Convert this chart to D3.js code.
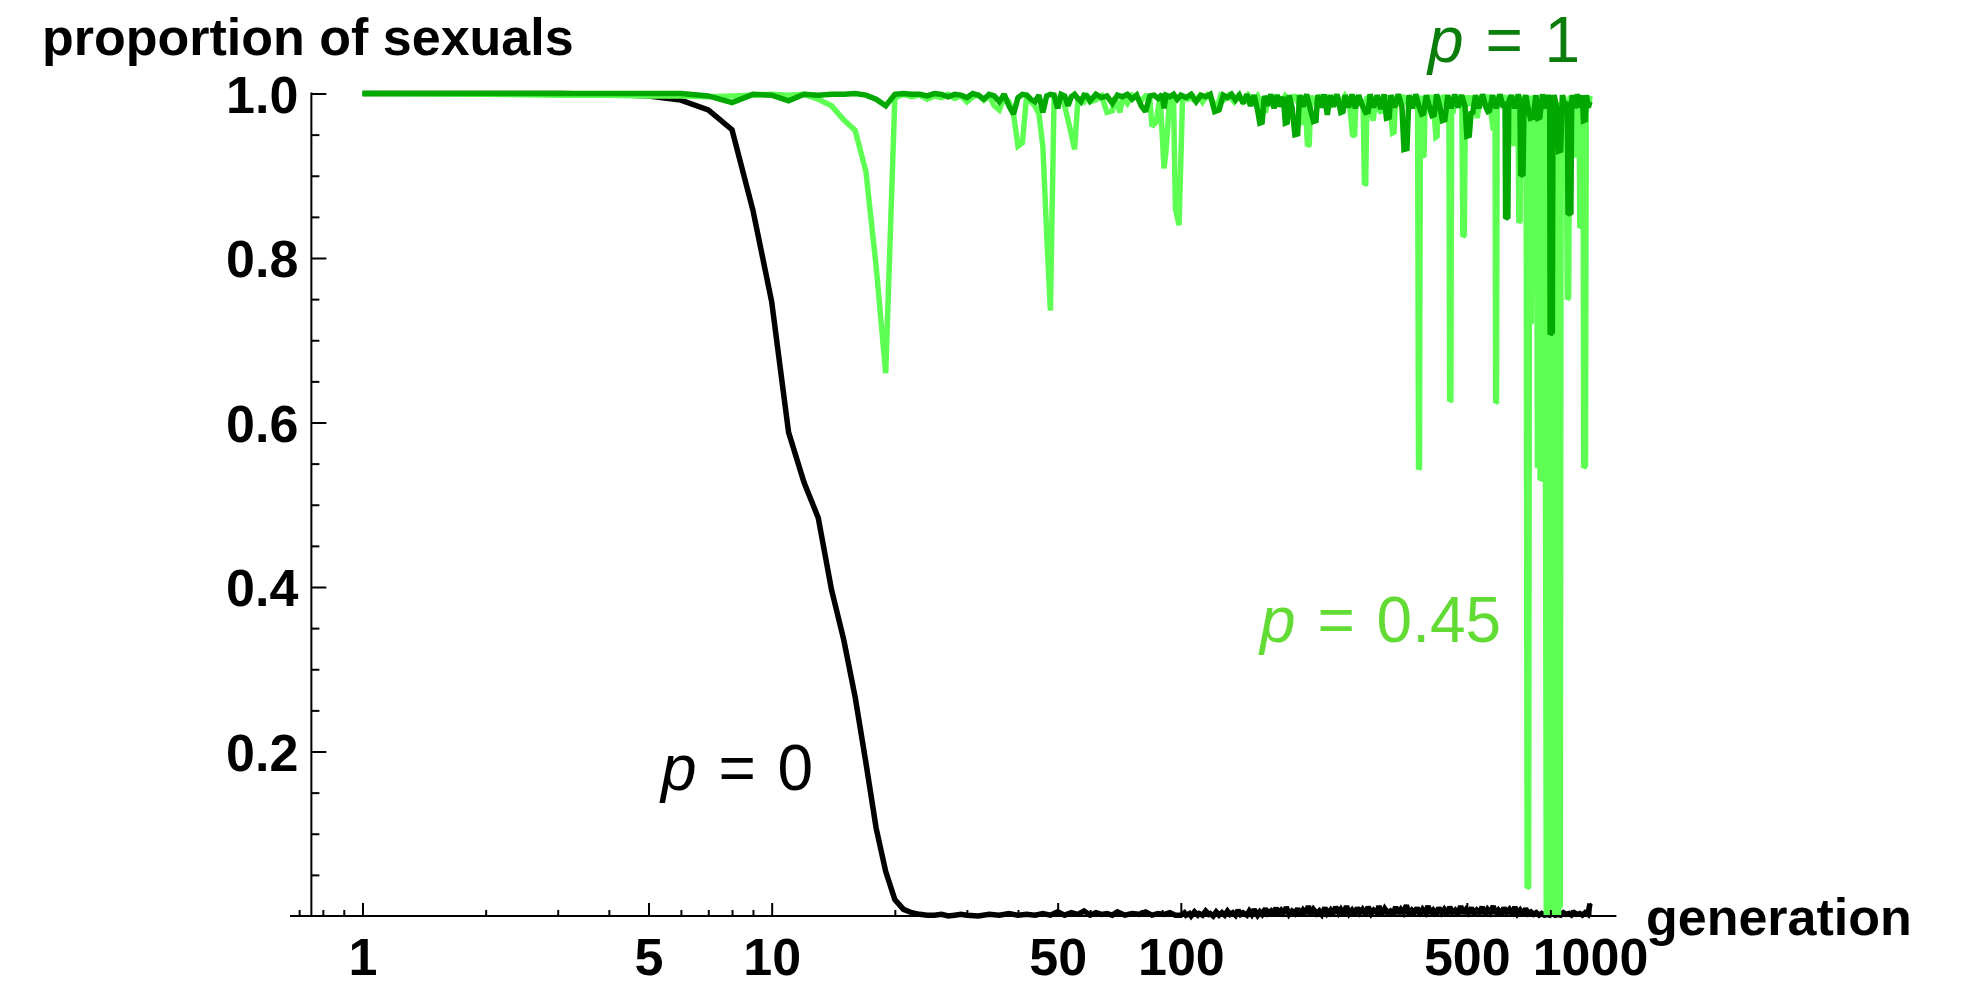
<!DOCTYPE html>
<html>
<head>
<meta charset="utf-8">
<script src="https://cdn.jsdelivr.net/npm/d3@7"></script>
<style>
  body { margin: 0; background: #ffffff; }
  svg { display: block; }
</style>
</head>
<body>
<svg id="chart" width="1967" height="987"></svg>
<script>
// ---- axis ticks ----
const generationMajorTicks = [1, 5, 10, 50, 100, 500, 1000];
const generationMinorTicks = [0.7, 0.8, 0.9, 2, 3, 4, 6, 7, 8, 9, 20, 30, 40, 60, 70, 80, 90,
                              200, 300, 400, 600, 700, 800, 900];
const proportionMajorTicks = [0.2, 0.4, 0.6, 0.8, 1.0];
const proportionMinorTicks = [0.05, 0.1, 0.15, 0.25, 0.3, 0.35, 0.45, 0.5, 0.55, 0.65, 0.7, 0.75,
                              0.85, 0.9, 0.95];
const generationAxisExtent = [0.665, 1160];
const yAxisGeneration = 0.75;

// ---- series labels ----
const seriesLabels = [
  { p: "p", rest: " = 0" },
  { p: "p", rest: " = 0.45" },
  { p: "p", rest: " = 1" }
];

// ---- proportion of sexuals, p = 0 : [generation, proportion] ----
const sexualsP0 = [
  [1,1],[2,1],[3,1],[4,0.999],[5,0.997],[6,0.992],[7,0.98],[8,0.956],[9,0.858],[10,0.747],
  [11,0.588],[12,0.527],[13,0.484],[14,0.397],[15,0.336],[16,0.266],[17,0.186],[18,0.107],
  [19,0.054],[20,0.02],[21,0.008],[22,0.004],[23,0.002],[24,0.001],[25,0.001],[26,0.002],
  [27,0],[28,0.001],[29,0.002],[30,0.001],[32,0],[34,0.002],[36,0.001],[38,0.003],[40,0.001],
  [42,0.002],[44,0.001],[46,0.003],[48,0.001],[50,0.005],[52,0.001],[54,0.004],[56,0.002],
  [58,0.006],[60,0.001],[62,0.004],[64,0.002],[66,0.003],[68,0.001],[70,0.005],[73,0.001],
  [76,0.003],[79,0.002],[82,0.005],[85,0.001],[88,0.003],[91,0.002],[94,0.004],[97,0.001],
  [100,0.001],[102,0.004],[103,0.001],[105,0.003],[106,0],[108,0.005],[110,0.001],[111,0.003],
  [113,0.001],[115,0.006],[117,0.002],[118,0.003],[120,0],[122,0.005],[124,0.001],[126,0.004],
  [128,0.001],[130,0.006],[132,0.002],[134,0.004],[136,0.001],[138,0.007],[140,0.002],
  [142,0.004],[145,0.001],[147,0.006],[149,0.002],[151,0.008],[154,0.001],[156,0.005],
  [158,0.002],[161,0.009],[163,0.003],[166,0.006],[168,0.001],[171,0.01],[173,0.002],
  [176,0.007],[179,0.003],[181,0.011],[184,0.002],[187,0.006],[190,0.003],[193,0.009],
  [196,0.001],[199,0.007],[202,0.003],[205,0.012],[208,0.002],[211,0.008],[215,0.003],
  [218,0.006],[221,0.002],[225,0.01],[228,0.003],[232,0.007],[235,0.002],[239,0.011],
  [243,0.004],[246,0.008],[250,0.002],[254,0.012],[258,0.003],[262,0.007],[266,0.002],
  [270,0.01],[274,0.004],[278,0.008],[283,0.002],[287,0.011],[292,0.003],[296,0.007],
  [301,0.004],[305,0.012],[310,0.002],[315,0.009],[320,0.004],[325,0.006],[330,0.002],
  [335,0.011],[340,0.003],[345,0.008],[350,0.004],[356,0.013],[361,0.002],[367,0.007],
  [372,0.004],[378,0.01],[384,0.002],[390,0.008],[396,0.004],[402,0.012],[408,0.003],
  [414,0.007],[421,0.002],[427,0.01],[434,0.004],[440,0.008],[447,0.002],[454,0.011],
  [461,0.004],[468,0.007],[475,0.002],[483,0.012],[490,0.003],[498,0.008],[505,0.004],
  [513,0.01],[521,0.002],[529,0.007],[537,0.004],[545,0.011],[554,0.002],[562,0.008],
  [571,0.004],[580,0.012],[588,0.003],[597,0.007],[607,0.002],[616,0.01],[625,0.004],
  [635,0.008],[645,0.002],[655,0.011],[665,0.003],[675,0.007],[685,0.002],[696,0.009],
  [706,0.003],[717,0.005],[728,0.002],[739,0.004],[751,0.001],[762,0.003],[774,0.001],
  [786,0.002],[798,0.001],[810,0.003],[823,0.001],[835,0.002],[848,0.001],[861,0.004],
  [874,0.002],[888,0.003],[901,0.001],[915,0.004],[929,0.002],[944,0.003],[958,0.001],
  [973,0.004],[988,0.002],[1000,0.015]
];

// ---- proportion of sexuals, p = 0.45 ----
const sexualsP045 = [
  [1,1],[2,0.999],[3,0.998],[4,0.998],[5,0.997],[6,0.997],[7,0.996],[8,0.997],[9,0.998],
  [10,0.999],[11,0.998],[12,0.999],[13,0.993],[14,0.985],[15,0.968],[16,0.955],[17,0.905],
  [18,0.79],[19,0.66],[20,0.995],[21,0.999],[22,0.996],[23,0.998],[24,0.993],[25,0.997],
  [26,0.995],[27,0.999],[28,0.994],[29,0.997],[30,0.99],[31,0.996],[32,0.998],[33,0.992],
  [34,0.997],[35,0.985],[36,0.98],[37,0.995],[38,0.99],[39,0.975],[40,0.936],[41,0.94],
  [42,0.998],[43,0.99],[44,0.985],[45,0.975],[46,0.936],[47,0.83],[48,0.736],[49,0.995],
  [50,0.99],[51,0.998],[52,0.985],[53,0.968],[54,0.95],[55,0.932],[56,0.99],[57,0.993],
  [58,0.99],[59,0.996],[60,0.99],[62,0.992],[64,0.997],[66,0.977],[68,0.979],[69,0.995],
  [71,0.977],[72,0.995],[74,0.988],[76,0.998],[78,0.995],[80,0.991],[82,0.997],[84,0.993],
  [85,0.96],[87,0.965],[89,0.996],[91,0.909],[92,0.93],[94,0.997],[96,0.99],[97,0.86],
  [99,0.84],[101,0.997],[104,0.993],[107,0.996],[108,0.99],[111,0.997],[113,0.99],
  [116,0.998],[119,0.993],[122,0.98],[125,0.997],[128,0.993],[131,0.998],[135,0.99],
  [138,0.997],[142,0.99],[146,0.998],[150,0.99],[154,0.997],[158,0.985],[161,0.977],
  [164,0.997],[168,0.99],[172,0.998],[176,0.988],[180,0.997],[185,0.99],[190,0.998],
  [195,0.985],[198,0.962],[201,0.998],[204,0.936],[206,0.938],[208,0.997],[213,0.987],
  [218,0.998],[223,0.985],[228,0.997],[234,0.988],[240,0.998],[246,0.986],[252,0.997],
  [258,0.99],[263,0.948],[266,0.95],[268,0.997],[274,0.988],[279,0.99],[281,0.889],
  [283,0.89],[285,0.997],[290,0.985],[295,0.967],[300,0.997],[305,0.98],[309,0.976],
  [313,0.998],[318,0.986],[324,0.997],[329,0.952],[332,0.953],[335,0.997],[342,0.985],
  [348,0.998],[355,0.987],[362,0.997],[369,0.985],[376,0.998],[379,0.99],[381,0.543],
  [383,0.545],[385,0.99],[388,0.997],[391,0.924],[393,0.925],[396,0.997],[402,0.985],
  [409,0.998],[415,0.986],[420,0.947],[423,0.948],[426,0.997],[433,0.985],[440,0.998],
  [446,0.988],[452,0.99],[454,0.626],[457,0.627],[459,0.99],[463,0.976],[468,0.997],
  [474,0.985],[480,0.998],[486,0.99],[489,0.826],[493,0.828],[496,0.99],[504,0.997],
  [512,0.985],[520,0.997],[530,0.97],[540,0.997],[550,0.985],[560,0.998],[570,0.986],
  [580,0.955],[586,0.99],[588,0.624],[591,0.625],[593,0.99],[598,0.997],[606,0.985],
  [614,0.998],[622,0.986],[630,0.997],[636,0.99],[640,0.94],[646,0.997],[652,0.936],
  [656,0.99],[662,0.997],[667,0.99],[670,0.843],[675,0.845],[678,0.99],[684,0.997],
  [690,0.985],[698,0.99],[702,0.034],[708,0.036],[712,0.99],[716,0.997],[719,0.72],
  [723,0.99],[730,0.997],[736,0.985],[741,0.99],[744,0.545],[748,0.548],[751,0.98],
  [755,0.53],[762,0.532],[766,0.99],[770,0.535],[775,0.99],[779,0.48],[782,0],[786,0.51],
  [790,0],[794,0.5],[798,0],[802,0.99],[806,0],[810,0.98],[814,0],[818,0.99],[822,0],
  [826,0.98],[830,0],[834,0.99],[838,0],[842,0.97],[846,0.01],[850,0.98],[856,0.99],
  [862,0.997],[868,0.985],[874,0.99],[880,0.75],[887,0.752],[891,0.99],[896,0.997],
  [902,0.985],[908,0.997],[914,0.99],[918,0.922],[923,0.99],[930,0.997],[936,0.985],
  [941,0.99],[944,0.837],[950,0.838],[954,0.99],[958,0.997],[962,0.99],[965,0.545],
  [975,0.548],[979,0.99],[987,0.997],[993,0.985],[1000,0.997]
];

// ---- proportion of sexuals, p = 1 ----
const sexualsP1 = [
  [1,1],[2,1],[3,1],[4,1],[5,1],[6,1],[7,0.997],[8,0.989],[9,0.999],[10,0.998],[11,0.991],
  [12,0.999],[13,0.998],[14,0.999],[15,0.999],[16,1],[17,0.998],[18,0.993],[19,0.985],
  [20,0.999],[21,1],[22,0.999],[23,0.999],[24,0.997],[25,1],[26,0.999],[27,0.996],
  [28,0.999],[29,0.998],[30,0.995],[31,1],[32,0.998],[33,0.993],[34,0.999],[35,0.997],
  [36,0.99],[37,0.999],[38,0.985],[39,0.975],[40,0.995],[41,0.999],[42,0.998],[43,0.993],
  [44,0.99],[45,0.998],[46,0.977],[47,0.997],[48,0.999],[49,0.998],[50,0.982],[51,0.999],
  [52,0.997],[53,0.985],[54,0.996],[55,0.999],[56,0.994],[57,0.99],[58,0.998],[59,0.997],
  [60,0.991],[62,0.999],[64,0.995],[66,0.997],[68,0.988],[70,0.998],[72,0.996],[74,0.999],
  [76,0.993],[78,0.998],[80,0.985],[82,0.978],[84,0.997],[86,0.998],[88,0.994],[90,0.999],
  [91,0.982],[92,0.998],[94,0.996],[96,0.999],[98,0.993],[100,0.998],[103,0.995],
  [106,0.999],[109,0.99],[112,0.998],[115,0.996],[118,0.999],[121,0.978],[124,0.98],
  [127,0.998],[130,0.995],[133,0.999],[136,0.992],[139,0.998],[142,0.988],[145,0.999],
  [148,0.985],[151,0.998],[154,0.98],[156,0.964],[158,0.965],[160,0.997],[163,0.985],
  [166,0.999],[169,0.982],[172,0.998],[175,0.984],[178,0.996],[180,0.964],[182,0.965],
  [184,0.998],[187,0.983],[190,0.95],[193,0.951],[195,0.998],[199,0.984],[203,0.999],
  [207,0.982],[211,0.966],[214,0.967],[216,0.998],[220,0.983],[224,0.999],[228,0.974],
  [232,0.998],[236,0.984],[241,0.999],[246,0.977],[249,0.978],[252,0.998],[257,0.983],
  [262,0.999],[267,0.982],[272,0.998],[278,0.985],[283,0.977],[287,0.978],[290,0.999],
  [296,0.983],[302,0.998],[308,0.981],[314,0.999],[318,0.97],[323,0.971],[326,0.998],
  [333,0.983],[340,0.999],[347,0.984],[351,0.932],[357,0.933],[361,0.998],[368,0.982],
  [375,0.999],[382,0.984],[388,0.975],[392,0.976],[398,0.998],[406,0.982],[411,0.973],
  [416,0.974],[422,0.999],[430,0.983],[436,0.967],[442,0.968],[449,0.998],[458,0.982],
  [467,0.999],[476,0.983],[486,0.998],[495,0.984],[500,0.948],[507,0.949],[512,0.976],
  [517,0.977],[525,0.998],[535,0.982],[546,0.999],[557,0.983],[563,0.978],[568,0.979],
  [578,0.998],[590,0.982],[602,0.999],[614,0.983],[620,0.99],[622,0.848],[630,0.85],
  [633,0.99],[642,0.998],[655,0.982],[668,0.999],[674,0.99],[677,0.9],[686,0.902],
  [690,0.99],[697,0.998],[705,0.983],[715,0.97],[726,0.971],[738,0.998],[746,0.97],
  [754,0.971],[765,0.999],[778,0.982],[791,0.998],[797,0.99],[799,0.707],[809,0.71],
  [812,0.99],[817,0.998],[830,0.981],[838,0.93],[848,0.931],[856,0.998],[869,0.982],
  [880,0.99],[884,0.853],[898,0.855],[902,0.99],[906,0.998],[919,0.982],[932,0.999],
  [945,0.983],[957,0.998],[964,0.967],[974,0.968],[980,0.998],[990,0.983],[1000,0.99]
];

// ---- layout ----
const svg = d3.select("#chart");
const labelFont = "'Liberation Sans', Arial, Helvetica, sans-serif";

const x = d3.scaleLog().domain([1, 1000]).range([362.5, 1590]);
const y = d3.scaleLinear().domain([0, 1]).range([916, 93.5]);

const line = d3.line()
  .x(d => x(d[0]))
  .y(d => y(d[1]));

// ---- data lines (drawn first, axes on top) ----
const series = [
  { data: sexualsP0,   color: "#000000", width: 5.5 },
  { data: sexualsP045, color: "#5CFF52", width: 5.5 },
  { data: sexualsP1,   color: "#00A800", width: 5.5 }
];
svg.append("g").selectAll("path")
  .data(series)
  .join("path")
  .attr("d", d => line(d.data))
  .attr("fill", "none")
  .attr("stroke", d => d.color)
  .attr("stroke-width", d => d.width)
  .attr("stroke-linejoin", "miter")
  .attr("stroke-miterlimit", 2);

// ---- y axis ----
const yAxisX = x(yAxisGeneration);
const yMajor = svg.append("g")
  .attr("transform", `translate(${yAxisX},0)`)
  .call(d3.axisLeft(y).tickValues(proportionMajorTicks).tickSize(-15).tickPadding(13)
    .tickFormat(d3.format(".1f")));
const yMinor = svg.append("g")
  .attr("transform", `translate(${yAxisX},0)`)
  .call(d3.axisLeft(y).tickValues(proportionMinorTicks).tickSize(-8).tickFormat(""));

// ---- x axis ----
const xMajor = svg.append("g")
  .attr("transform", `translate(0,${y(0)})`)
  .call(d3.axisBottom(x).tickValues(generationMajorTicks).tickSize(-13).tickPadding(22)
    .tickFormat(d3.format("d")));
const xMinor = svg.append("g")
  .attr("transform", `translate(0,${y(0)})`)
  .call(d3.axisBottom(x).tickValues(generationMinorTicks).tickSize(-6).tickFormat(""));

[yMajor, yMinor, xMajor, xMinor].forEach(g => {
  g.select(".domain").remove();
  g.selectAll(".tick line").attr("stroke", "#000").attr("stroke-width", 2);
  g.selectAll(".tick text")
    .attr("fill", "#000")
    .attr("font-family", labelFont)
    .attr("font-weight", "bold")
    .attr("font-size", 52);
});
yMajor.selectAll(".tick text").attr("dy", "0.36em");

// axis lines
svg.append("line")
  .attr("x1", x(generationAxisExtent[0])).attr("x2", x(generationAxisExtent[1]))
  .attr("y1", y(0)).attr("y2", y(0))
  .attr("stroke", "#000").attr("stroke-width", 2);
svg.append("line")
  .attr("x1", yAxisX).attr("x2", yAxisX)
  .attr("y1", y(0)).attr("y2", y(1) - 1)
  .attr("stroke", "#000").attr("stroke-width", 2);

// ---- axis titles ----
svg.append("text")
  .attr("x", 42).attr("y", 55)
  .attr("font-family", labelFont).attr("font-weight", "bold").attr("font-size", 52)
  .attr("fill", "#000")
  .text("proportion of sexuals");
svg.append("text")
  .attr("x", 1646).attr("y", 935)
  .attr("font-family", labelFont).attr("font-weight", "bold").attr("font-size", 52)
  .attr("fill", "#000")
  .text("generation");

// ---- series labels ----
const labelSpecs = [
  { label: seriesLabels[0], x: 661, y: 790, color: "#000000" },
  { label: seriesLabels[1], x: 1260, y: 642, color: "#63DB35" },
  { label: seriesLabels[2], x: 1428, y: 62,  color: "#0A7D0A" }
];
labelSpecs.forEach(s => {
  const t = svg.append("text")
    .attr("x", s.x).attr("y", s.y)
    .attr("font-family", labelFont).attr("font-size", 64)
    .attr("fill", s.color)
    .attr("word-spacing", 4);
  t.append("tspan").attr("font-style", "italic").text(s.label.p);
  t.append("tspan").text(s.label.rest);
});
</script>
</body>
</html>
